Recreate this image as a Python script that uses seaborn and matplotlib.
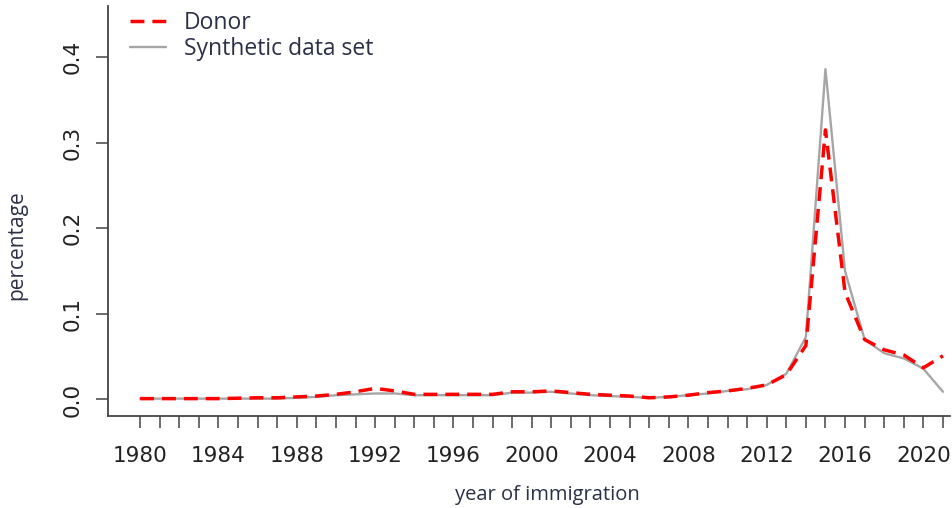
import matplotlib
matplotlib.use("Agg")
import matplotlib.pyplot as plt
from matplotlib.lines import Line2D
import numpy as np
import pandas as pd
import seaborn as sns

years = list(range(1980, 2022))

donor = [0.001, 0.001, 0.001, 0.001, 0.001, 0.0015, 0.002, 0.002, 0.003, 0.004,
         0.006, 0.009, 0.013, 0.010, 0.006, 0.006, 0.006, 0.006, 0.006, 0.009,
         0.009, 0.010, 0.008, 0.006, 0.005, 0.004, 0.002, 0.003, 0.005, 0.008,
         0.010, 0.013, 0.017, 0.029, 0.063, 0.315, 0.125, 0.070, 0.058, 0.052,
         0.037, 0.051]

synthetic = [0.001, 0.001, 0.001, 0.001, 0.001, 0.001, 0.001, 0.001, 0.002, 0.003,
             0.005, 0.006, 0.007, 0.007, 0.005, 0.005, 0.005, 0.005, 0.005, 0.008,
             0.008, 0.009, 0.007, 0.005, 0.004, 0.003, 0.002, 0.003, 0.005, 0.007,
             0.010, 0.012, 0.017, 0.030, 0.073, 0.386, 0.150, 0.070, 0.054, 0.048,
             0.036, 0.009]

series_names = ["Donor", "Synthetic data set"]
x_tick_labels = list(range(1980, 2021, 4))
y_ticks = [0.0, 0.1, 0.2, 0.3, 0.4]

df = pd.DataFrame({
    "year": years * 2,
    "value": donor + synthetic,
    "series": [series_names[0]] * len(years) + [series_names[1]] * len(years),
})

sns.set_style("white")
plt.rcParams["font.family"] = ["DejaVu Sans"]

fig = plt.figure(figsize=(9.53, 5.08), dpi=100)
ax = fig.add_axes([108 / 953, 92 / 508, 842 / 953, 410 / 508])

red = "#ff0000"
grey = "#a6a6a6"
text_col = "#2b3047"
label_font = ["Open Sans", "DejaVu Sans"]

sns.lineplot(data=df[df.series == series_names[1]], x="year", y="value",
             color=grey, linewidth=1.7, ax=ax, legend=False, zorder=2)
sns.lineplot(data=df[df.series == series_names[0]], x="year", y="value",
             color=red, linewidth=2.5, ax=ax, legend=False, zorder=3)
ax.lines[-1].set_dashes([4.0, 2.3])

ax.set_xlim(1978.36, 2021.36)
ax.set_ylim(-0.0193, 0.4597)

ax.set_xticks(years)
ax.set_xticklabels([str(y) if y in x_tick_labels else "" for y in years])
ax.set_yticks(y_ticks)
ax.set_yticklabels([f"{v:.1f}" for v in y_ticks], rotation=90, va="center")

ax.tick_params(axis="both", direction="out", length=8.5, width=1.1,
               color="#444444", labelsize=15.5, labelcolor="#222222",
               bottom=True, left=True)
ax.tick_params(axis="x", pad=13)
ax.tick_params(axis="y", pad=10)

for side in ["top", "right"]:
    ax.spines[side].set_visible(False)
for side in ["left", "bottom"]:
    ax.spines[side].set_color("#444444")
    ax.spines[side].set_linewidth(1.3)

ax.set_xlabel("year of immigration", fontsize=14.5, color=text_col,
              family=label_font)
ax.xaxis.set_label_coords(0.5 + (547 - 529) / 842, -0.168)
ax.set_ylabel("percentage", fontsize=15, color=text_col, family=label_font)
ax.yaxis.set_label_coords(-0.0962, 0.417)

handles = [
    Line2D([], [], color=red, linewidth=2.5, dashes=[4.0, 2.3]),
    Line2D([], [], color=grey, linewidth=1.7),
]
leg = ax.legend(handles, series_names, loc="upper left",
                bbox_to_anchor=(22 / 842, 0.988), frameon=False,
                prop={"family": label_font, "size": 16.5},
                handlelength=1.55, handletextpad=0.8, labelspacing=0.1,
                borderaxespad=0.0, borderpad=0.0)
for t in leg.get_texts():
    t.set_color(text_col)

fig.savefig("out.png", dpi=100)
